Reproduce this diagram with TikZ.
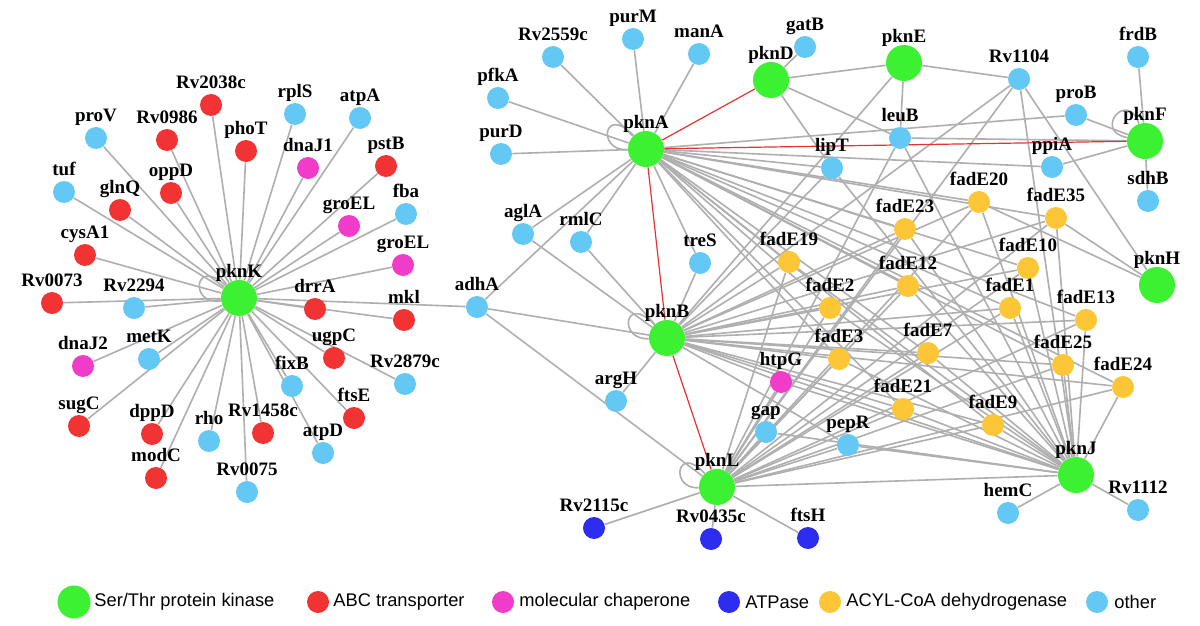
\documentclass[tikz,border=0pt]{standalone}
\usepackage{fontspec}
\setmainfont{Liberation Serif}
\newfontfamily\legfont{Liberation Sans}
\usetikzlibrary{backgrounds,calc}
\definecolor{cKin}{RGB}{60,240,50}
\definecolor{cABC}{RGB}{242,51,51}
\definecolor{cChap}{RGB}{240,60,200}
\definecolor{cATP}{RGB}{45,45,240}
\definecolor{cAcyl}{RGB}{253,198,55}
\definecolor{cOther}{RGB}{100,200,245}
\definecolor{cEdge}{RGB}{175,175,175}
\definecolor{cRedEdge}{RGB}{230,50,50}
\tikzset{
  sm/.style={circle, draw=none, inner sep=0pt, minimum size=11pt},
  bg/.style={circle, draw=none, inner sep=0pt, minimum size=18pt},
  lbl/.style={font=\fontsize{9.5}{11}\selectfont\bfseries, inner sep=0pt, text depth=0pt},
  kin/.style={bg, fill=cKin, label={[lbl,label distance=1pt]above:#1}},
  abc/.style={sm, fill=cABC, label={[lbl,label distance=2.5pt]above:#1}},
  chap/.style={sm, fill=cChap, label={[lbl,label distance=2.5pt]above:#1}},
  atpase/.style={sm, fill=cATP, label={[lbl,label distance=2.5pt]above:#1}},
  acyl/.style={sm, fill=cAcyl, label={[lbl,label distance=2.5pt]above:#1}},
  oth/.style={sm, fill=cOther, label={[lbl,label distance=2.5pt]above:#1}},
  ed/.style={draw=cEdge, line width=0.8pt},
  rededge/.style={draw=cRedEdge, line width=0.6pt},
  legtxt/.style={font=\legfont\fontsize{9.15}{11}\selectfont, inner sep=0pt, anchor=west},
}
\begin{document}
\begin{tikzpicture}[x=0.5pt,y=-0.5pt]
\useasboundingbox (0,0) rectangle (1200,626);
% ---------- left cluster ----------
\node[kin=pknK] (pknK) at (239,298) {};
\node[oth=proV] (proV) at (96,138) {};
\node[abc=Rv0986] (Rv0986) at (167,140) {};
\node[abc=Rv2038c] (Rv2038c) at (211,105) {};
\node[oth=rplS] (rplS) at (295,114) {};
\node[oth=atpA] (atpA) at (360,118) {};
\node[abc=phoT] (phoT) at (246,151) {};
\node[chap=dnaJ1] (dnaJ1) at (308,168) {};
\node[abc=pstB] (pstB) at (386,166) {};
\node[oth=tuf] (tuf) at (64,192) {};
\node[abc=glnQ] (glnQ) at (120,210) {};
\node[abc=oppD] (oppD) at (171,193) {};
\node[chap=groEL] (groELa) at (349,226) {};
\node[oth=fba] (fba) at (406,214) {};
\node[abc=cysA1] (cysA1) at (85,255) {};
\node[chap=groEL] (groELb) at (403,265) {};
\node[abc=Rv0073] (Rv0073) at (52,303) {};
\node[oth=Rv2294] (Rv2294) at (134,308) {};
\node[abc=drrA] (drrA) at (315,309) {};
\node[abc=mkl] (mkl) at (404,320) {};
\node[oth=adhA] (adhA) at (477,307) {};
\node[chap=dnaJ2] (dnaJ2) at (83,366) {};
\node[oth=metK] (metK) at (149,359) {};
\node[abc=ugpC] (ugpC) at (334,358) {};
\node[oth=Rv2879c] (Rv2879c) at (405,384) {};
\node[oth=fixB] (fixB) at (292,386) {};
\node[abc=sugC] (sugC) at (79,426) {};
\node[abc=dppD] (dppD) at (152,434) {};
\node[oth=rho] (rho) at (209,441) {};
\node[abc=Rv1458c] (Rv1458c) at (263,433) {};
\node[abc=ftsE] (ftsE) at (354,418) {};
\node[oth=atpD] (atpD) at (323,453) {};
\node[abc=modC] (modC) at (156,478) {};
\node[oth=Rv0075] (Rv0075) at (247,492) {};
% ---------- right cluster ----------
\node[kin=pknA] (pknA) at (646,149) {};
\node[kin=pknD] (pknD) at (771,80) {};
\node[kin=pknE] (pknE) at (904,63) {};
\node[kin=pknF] (pknF) at (1145,141) {};
\node[kin=pknH] (pknH) at (1157,285) {};
\node[kin=pknB] (pknB) at (667,338) {};
\node[kin=pknJ] (pknJ) at (1076,475) {};
\node[kin=pknL] (pknL) at (717,487) {};
\node[oth=Rv2559c] (Rv2559c) at (553,57) {};
\node[oth=purM] (purM) at (633,39) {};
\node[oth=manA] (manA) at (699,54) {};
\node[oth=gatB] (gatB) at (805,47) {};
\node[oth=pfkA] (pfkA) at (498,98) {};
\node[oth=purD] (purD) at (501,154) {};
\node[oth=lipT] (lipT) at (832,168) {};
\node[oth=aglA] (aglA) at (523,234) {};
\node[oth=rmlC] (rmlC) at (581,242) {};
\node[oth=treS] (treS) at (700,263) {};
\node[oth=Rv1104] (Rv1104) at (1019,79) {};
\node[oth=frdB] (frdB) at (1138,57) {};
\node[oth=proB] (proB) at (1076,115) {};
\node[oth=leuB] (leuB) at (900,138) {};
\node[oth=ppiA] (ppiA) at (1052,167) {};
\node[oth=sdhB] (sdhB) at (1148,201) {};
\node[chap=htpG] (htpG) at (781,382) {};
\node[oth=argH] (argH) at (616,401) {};
\node[oth=gap] (gap) at (766,432) {};
\node[oth=pepR] (pepR) at (848,445) {};
\node[oth=hemC] (hemC) at (1008,513) {};
\node[oth=Rv1112] (Rv1112) at (1138,510) {};
\node[atpase=Rv2115c] (Rv2115c) at (594,528) {};
\node[atpase=Rv0435c] (Rv0435c) at (711,539) {};
\node[atpase=ftsH] (ftsH) at (808,538) {};
\node[acyl=fadE19] (fadE19) at (789,262) {};
\node[acyl=fadE20] (fadE20) at (979,202) {};
\node[acyl=fadE35] (fadE35) at (1056,218) {};
\node[acyl=fadE23] (fadE23) at (905,229) {};
\node[acyl=fadE10] (fadE10) at (1028,268) {};
\node[acyl=fadE12] (fadE12) at (908,286) {};
\node[acyl=fadE2] (fadE2) at (830,308) {};
\node[acyl=fadE1] (fadE1) at (1010,308) {};
\node[acyl=fadE13] (fadE13) at (1086,320) {};
\node[acyl=fadE3] (fadE3) at (839,359) {};
\node[acyl=fadE7] (fadE7) at (928,353) {};
\node[acyl=fadE25] (fadE25) at (1063,365) {};
\node[acyl=fadE24] (fadE24) at (1123,387) {};
\node[acyl=fadE21] (fadE21) at (903,409) {};
\node[acyl=fadE9] (fadE9) at (993,425) {};
% ---------- legend ----------
\node[bg, fill=cKin, minimum size=16.5pt] (legK) at (74,602) {};
\node[legtxt] (legKt) at (94,602) {Ser/Thr protein kinase};
\node[sm, fill=cABC] (legA) at (318,602) {};
\node[legtxt] (legAt) at (333,602) {ABC transporter};
\node[sm, fill=cChap] (legC) at (503,602) {};
\node[legtxt] (legCt) at (519,602) {molecular chaperone};
\node[sm, fill=cATP] (legP) at (729,602) {};
\node[legtxt] (legPt) at (745,602) {ATPase};
\node[sm, fill=cAcyl] (legY) at (830,602) {};
\node[legtxt] (legYt) at (846,602) {ACYL-CoA dehydrogenase};
\node[sm, fill=cOther] (legO) at (1097,602) {};
\node[legtxt] (legOt) at (1114,602) {other};
% ---------- edges ----------
\begin{pgfonlayer}{background}
\fill[white] (0,0) rectangle (1200,626);
\foreach \n in {proV,Rv0986,Rv2038c,rplS,atpA,phoT,dnaJ1,pstB,tuf,glnQ,oppD,groELa,fba,cysA1,groELb,Rv0073,Rv2294,drrA,mkl,adhA,dnaJ2,metK,ugpC,Rv2879c,fixB,sugC,dppD,rho,Rv1458c,ftsE,atpD,modC,Rv0075}
  \draw[ed] (pknK) -- (\n);
\foreach \n in {Rv2559c,purM,manA,pfkA,purD,aglA,rmlC,adhA,treS,proB,ppiA,lipT}
  \draw[ed] (pknA) -- (\n);
\foreach \n in {adhA,aglA,rmlC,argH,treS,htpG,pepR,Rv1104,pknE,pknJ,lipT}
  \draw[ed] (pknB) -- (\n);
\foreach \n in {adhA,Rv2115c,Rv0435c,ftsH,gap,htpG,pepR,leuB,Rv1104,pknJ}
  \draw[ed] (pknL) -- (\n);
\foreach \n in {hemC,Rv1112,gap,pepR,htpG,Rv1104,leuB,lipT}
  \draw[ed] (pknJ) -- (\n);
\foreach \n in {gatB,pknE,leuB,lipT}
  \draw[ed] (pknD) -- (\n);
\foreach \n in {Rv1104,leuB}
  \draw[ed] (pknE) -- (\n);
\foreach \n in {frdB,sdhB,proB,ppiA,leuB}
  \draw[ed] (pknF) -- (\n);
\foreach \n in {Rv1104,fadE35,fadE20}
  \draw[ed] (pknH) -- (\n);
\foreach \f in {fadE19,fadE20,fadE35,fadE23,fadE10,fadE12,fadE2,fadE1,fadE13,fadE3,fadE7,fadE25,fadE24,fadE21,fadE9}
  \foreach \h in {pknA,pknB,pknL,pknJ}
    \draw[ed] (\h) -- (\f);
% self loops
\draw[ed] (pknK) .. controls ($(pknK)+(-45,-42)$) and ($(pknK)+(-50,8)$) .. (pknK);
\draw[ed] (pknA) .. controls ($(pknA)+(-42,-45)$) and ($(pknA)+(-50,2)$) .. (pknA);
\draw[ed] (pknB) .. controls ($(pknB)+(-42,-45)$) and ($(pknB)+(-50,2)$) .. (pknB);
\draw[ed] (pknL) .. controls ($(pknL)+(-40,-44)$) and ($(pknL)+(-48,2)$) .. (pknL);
\draw[ed] (pknF) .. controls ($(pknF)+(-18,-52)$) and ($(pknF)+(-52,-10)$) .. (pknF);
% red edges
\draw[rededge] (pknA) -- (pknD);
\draw[rededge] (pknA) -- (pknF);
\draw[rededge] (pknA) -- (pknB);
\draw[rededge] (pknB) -- (pknL);
\end{pgfonlayer}
\end{tikzpicture}
\end{document}
